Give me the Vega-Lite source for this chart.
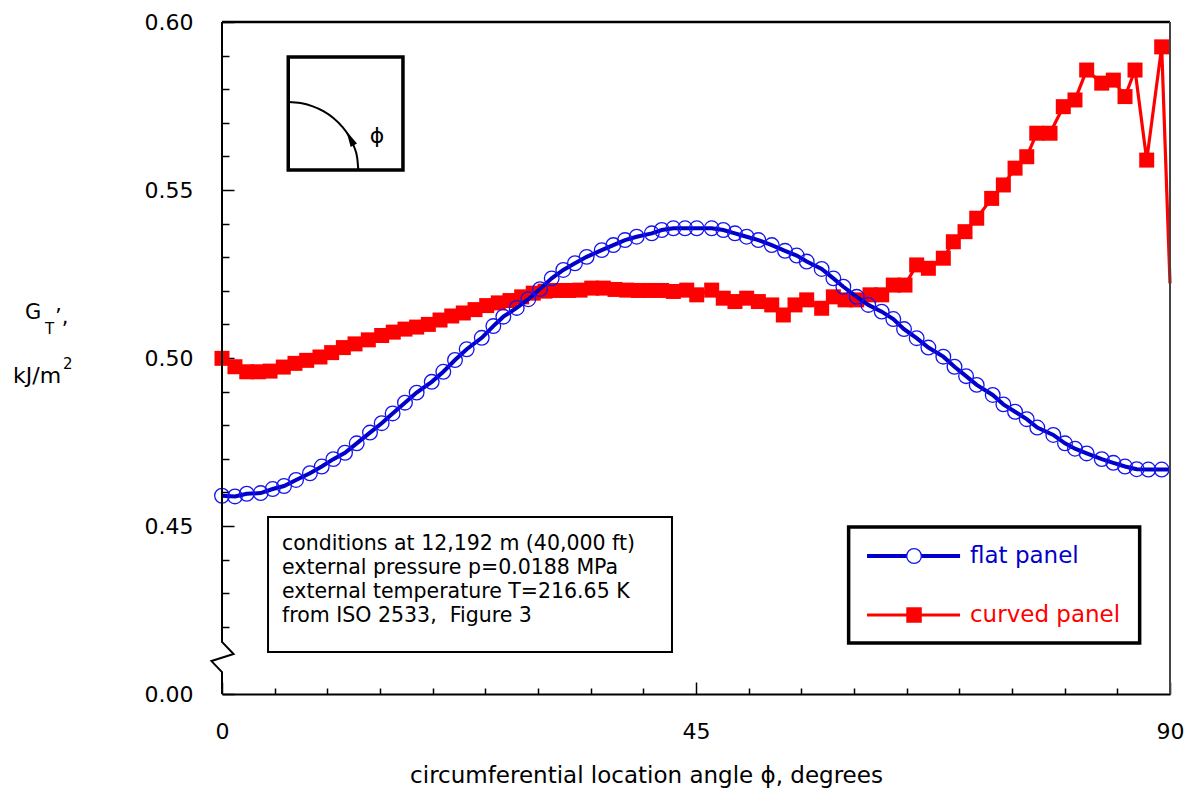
{
  "$schema": "https://vega.github.io/schema/vega-lite/v6.json",
  "width": 948,
  "height": 672,
  "autosize": {"type": "none"},
  "padding": {"left": 222, "top": 22, "right": 23, "bottom": 99},
  "background": "white",
  "config": {
    "view": {"stroke": null},
    "font": "DejaVu Sans",
    "axis": {"labelOverlap": false, "labelFlush": false, "labelBound": false, "grid": false}
  },
  "resolve": {"scale": {"x": "shared", "y": "shared"}, "axis": {"x": "independent", "y": "independent"}},
  "datasets": {
    "flat": [
      {"angle": 0, "GT": 0.4590}, {"angle": 1.23, "GT": 0.4588}, {"angle": 2.35, "GT": 0.4596}, {"angle": 3.67, "GT": 0.4598},
      {"angle": 4.81, "GT": 0.4610}, {"angle": 5.89, "GT": 0.4619}, {"angle": 7.03, "GT": 0.4637}, {"angle": 8.35, "GT": 0.4657},
      {"angle": 9.47, "GT": 0.4677}, {"angle": 10.57, "GT": 0.4699}, {"angle": 11.68, "GT": 0.4718}, {"angle": 12.79, "GT": 0.4746},
      {"angle": 14.05, "GT": 0.4778}, {"angle": 15.16, "GT": 0.4806}, {"angle": 16.20, "GT": 0.4835}, {"angle": 17.37, "GT": 0.4867},
      {"angle": 18.48, "GT": 0.4897}, {"angle": 19.91, "GT": 0.4929}, {"angle": 21.01, "GT": 0.4959}, {"angle": 22.12, "GT": 0.4994},
      {"angle": 23.23, "GT": 0.5026}, {"angle": 24.66, "GT": 0.5060}, {"angle": 25.76, "GT": 0.5095}, {"angle": 26.71, "GT": 0.5123},
      {"angle": 27.98, "GT": 0.5149}, {"angle": 29.08, "GT": 0.5175}, {"angle": 30.19, "GT": 0.5205}, {"angle": 31.30, "GT": 0.5237},
      {"angle": 32.40, "GT": 0.5262}, {"angle": 33.51, "GT": 0.5282}, {"angle": 34.62, "GT": 0.5301}, {"angle": 36.05, "GT": 0.5321},
      {"angle": 37.15, "GT": 0.5336}, {"angle": 38.26, "GT": 0.5351}, {"angle": 39.37, "GT": 0.5361}, {"angle": 40.80, "GT": 0.5371},
      {"angle": 41.75, "GT": 0.5381}, {"angle": 42.85, "GT": 0.5386}, {"angle": 43.96, "GT": 0.5386}, {"angle": 45.07, "GT": 0.5386},
      {"angle": 46.49, "GT": 0.5386}, {"angle": 47.59, "GT": 0.5381}, {"angle": 48.70, "GT": 0.5371}, {"angle": 49.81, "GT": 0.5361},
      {"angle": 50.92, "GT": 0.5351}, {"angle": 52.19, "GT": 0.5336}, {"angle": 53.45, "GT": 0.5319}, {"angle": 54.56, "GT": 0.5305},
      {"angle": 55.51, "GT": 0.5287}, {"angle": 56.93, "GT": 0.5265}, {"angle": 58.04, "GT": 0.5237}, {"angle": 58.99, "GT": 0.5212},
      {"angle": 60.26, "GT": 0.5182}, {"angle": 61.36, "GT": 0.5158}, {"angle": 62.63, "GT": 0.5138}, {"angle": 63.73, "GT": 0.5116},
      {"angle": 64.75, "GT": 0.5086}, {"angle": 65.95, "GT": 0.5059}, {"angle": 67.06, "GT": 0.5031}, {"angle": 68.48, "GT": 0.5004},
      {"angle": 69.54, "GT": 0.4974}, {"angle": 70.64, "GT": 0.4946}, {"angle": 71.65, "GT": 0.4920}, {"angle": 73.17, "GT": 0.4890},
      {"angle": 74.18, "GT": 0.4862}, {"angle": 75.29, "GT": 0.4840}, {"angle": 76.40, "GT": 0.4818}, {"angle": 77.40, "GT": 0.4793},
      {"angle": 78.92, "GT": 0.4771}, {"angle": 80.03, "GT": 0.4746}, {"angle": 80.98, "GT": 0.4730}, {"angle": 82.09, "GT": 0.4716},
      {"angle": 83.52, "GT": 0.4699}, {"angle": 84.62, "GT": 0.4688}, {"angle": 85.73, "GT": 0.4677}, {"angle": 86.84, "GT": 0.4669},
      {"angle": 87.94, "GT": 0.4668}, {"angle": 89.21, "GT": 0.4668}, {"angle": 90, "GT": 0.4668}
    ],
    "curved": [
      {"angle": 0, "GT": 0.4999}, {"angle": 1.23, "GT": 0.4974}, {"angle": 2.35, "GT": 0.4959}, {"angle": 3.45, "GT": 0.4959},
      {"angle": 4.56, "GT": 0.4961}, {"angle": 5.82, "GT": 0.4973}, {"angle": 6.93, "GT": 0.4984}, {"angle": 8.04, "GT": 0.4993},
      {"angle": 9.30, "GT": 0.5003}, {"angle": 10.41, "GT": 0.5016}, {"angle": 11.52, "GT": 0.5031}, {"angle": 12.63, "GT": 0.5042},
      {"angle": 13.89, "GT": 0.5054}, {"angle": 15.16, "GT": 0.5067}, {"angle": 16.26, "GT": 0.5077}, {"angle": 17.37, "GT": 0.5086},
      {"angle": 18.48, "GT": 0.5092}, {"angle": 19.59, "GT": 0.5100}, {"angle": 20.70, "GT": 0.5113}, {"angle": 21.81, "GT": 0.5125},
      {"angle": 22.91, "GT": 0.5134}, {"angle": 24.02, "GT": 0.5144}, {"angle": 25.13, "GT": 0.5156}, {"angle": 26.23, "GT": 0.5164},
      {"angle": 27.34, "GT": 0.5171}, {"angle": 28.45, "GT": 0.5182}, {"angle": 29.55, "GT": 0.5193}, {"angle": 30.67, "GT": 0.5199},
      {"angle": 31.78, "GT": 0.5201}, {"angle": 32.88, "GT": 0.5201}, {"angle": 33.99, "GT": 0.5202}, {"angle": 35.10, "GT": 0.5208},
      {"angle": 36.20, "GT": 0.5208}, {"angle": 37.31, "GT": 0.5204}, {"angle": 38.42, "GT": 0.5202}, {"angle": 39.52, "GT": 0.5201},
      {"angle": 40.63, "GT": 0.5201}, {"angle": 41.74, "GT": 0.5201}, {"angle": 42.85, "GT": 0.5198}, {"angle": 44.12, "GT": 0.5202},
      {"angle": 45.07, "GT": 0.5188}, {"angle": 46.49, "GT": 0.5202}, {"angle": 47.59, "GT": 0.5178}, {"angle": 48.70, "GT": 0.5168},
      {"angle": 49.81, "GT": 0.5178}, {"angle": 50.92, "GT": 0.5168}, {"angle": 52.19, "GT": 0.5158}, {"angle": 53.29, "GT": 0.5128},
      {"angle": 54.40, "GT": 0.5158}, {"angle": 55.51, "GT": 0.5173}, {"angle": 56.93, "GT": 0.5148}, {"angle": 58.04, "GT": 0.5182},
      {"angle": 59.15, "GT": 0.5173}, {"angle": 60.26, "GT": 0.5173}, {"angle": 61.52, "GT": 0.5188}, {"angle": 62.63, "GT": 0.5188},
      {"angle": 63.73, "GT": 0.5217}, {"angle": 64.84, "GT": 0.5217}, {"angle": 65.95, "GT": 0.5277}, {"angle": 67.06, "GT": 0.5267},
      {"angle": 68.48, "GT": 0.5297}, {"angle": 69.43, "GT": 0.5346}, {"angle": 70.54, "GT": 0.5376}, {"angle": 71.65, "GT": 0.5416},
      {"angle": 73.07, "GT": 0.5475}, {"angle": 74.18, "GT": 0.5515}, {"angle": 75.29, "GT": 0.5565}, {"angle": 76.40, "GT": 0.5599},
      {"angle": 77.35, "GT": 0.5669}, {"angle": 78.61, "GT": 0.5669}, {"angle": 79.87, "GT": 0.5748}, {"angle": 80.98, "GT": 0.5768},
      {"angle": 82.09, "GT": 0.5857}, {"angle": 83.52, "GT": 0.5818}, {"angle": 84.62, "GT": 0.5827}, {"angle": 85.73, "GT": 0.5778},
      {"angle": 86.68, "GT": 0.5857}, {"angle": 87.79, "GT": 0.5589}, {"angle": 89.21, "GT": 0.5926}, {"angle": 90, "GT": 0.5222}
    ]
  },
  "layer": [
    {
      "data": {"name": "curved"},
      "mark": {"type": "line", "color": "#FF0000", "strokeWidth": 3.2, "clip": false},
      "encoding": {
        "x": {
          "field": "angle", "type": "quantitative",
          "scale": {"domain": [0, 90], "nice": false, "zero": false},
          "axis": {
            "orient": "bottom",
            "values": [0, 45, 90],
            "format": "d",
            "tickSize": -12,
            "tickColor": "black", "tickWidth": 1.5,
            "domainColor": "black", "domainWidth": 2,
            "labelFont": "DejaVu Sans", "labelFontSize": 22, "labelColor": "black",
            "labelPadding": 39, "labelFlush": false, "labelOverlap": false, "labelBound": false,
            "grid": false,
            "title": "circumferential location angle ϕ, degrees",
            "titleFont": "DejaVu Sans", "titleFontSize": 23, "titleFontWeight": "normal", "titleColor": "black",
            "titleX": 424, "titleY": 88, "titleAlign": "center", "titleBaseline": "alphabetic"
          }
        },
        "y": {
          "field": "GT", "type": "quantitative",
          "scale": {"domain": [0.40, 0.60], "nice": false, "zero": false},
          "axis": {
            "orient": "left",
            "values": [0.4, 0.45, 0.5, 0.55, 0.6],
            "labelExpr": "datum.value < 0.405 ? '0.00' : format(datum.value, '.2f')",
            "tickSize": -12,
            "tickColor": "black", "tickWidth": 1.5,
            "domain": false,
            "labelFont": "DejaVu Sans", "labelFontSize": 22, "labelColor": "black",
            "labelPadding": 41, "labelFlush": false, "labelOverlap": false, "labelBound": false,
            "grid": false, "title": null
          }
        }
      }
    },
    {
      "data": {"name": "curved"},
      "transform": [{"filter": "datum.angle < 89.9"}],
      "mark": {"type": "point", "shape": "square", "filled": true, "color": "#FF0000", "size": 225, "opacity": 1, "clip": false},
      "encoding": {
        "x": {
          "field": "angle", "type": "quantitative",
          "axis": {
            "orient": "bottom",
            "values": [5, 10, 15, 20, 25, 30, 35, 40, 50, 55, 60, 65, 70, 75, 80, 85],
            "tickSize": -6, "tickColor": "black", "tickWidth": 1.5,
            "domain": false, "labels": false, "grid": false, "title": null
          }
        },
        "y": {
          "field": "GT", "type": "quantitative",
          "axis": {
            "orient": "left",
            "values": [0.42, 0.43, 0.44, 0.46, 0.47, 0.48, 0.49, 0.51, 0.52, 0.53, 0.54, 0.56, 0.57, 0.58, 0.59],
            "tickSize": -7, "tickColor": "black", "tickWidth": 1.5,
            "domain": false, "labels": false, "grid": false, "title": null
          }
        }
      }
    },
    {
      "data": {"name": "flat"},
      "mark": {"type": "line", "color": "#0000C8", "strokeWidth": 4, "clip": false},
      "encoding": {
        "x": {"field": "angle", "type": "quantitative", "axis": null},
        "y": {"field": "GT", "type": "quantitative", "axis": null}
      }
    },
    {
      "data": {"name": "flat"},
      "transform": [{"filter": "datum.angle < 89.9"}],
      "mark": {"type": "point", "shape": "circle", "filled": false, "stroke": "#1414F0", "strokeWidth": 1.3, "size": 215, "opacity": 1, "clip": false},
      "encoding": {
        "x": {"field": "angle", "type": "quantitative", "axis": null},
        "y": {"field": "GT", "type": "quantitative", "axis": null}
      }
    },
    {
      "data": {"values": [{}]},
      "mark": {"type": "rule", "color": "black", "strokeWidth": 2.5},
      "encoding": {
        "x": {"datum": 0, "type": "quantitative", "axis": null},
        "x2": {"datum": 90},
        "y": {"datum": 0.6, "type": "quantitative", "axis": null}
      }
    },
    {
      "data": {"values": [{}]},
      "mark": {"type": "rule", "color": "#444444", "strokeWidth": 2},
      "encoding": {
        "x": {"datum": 90, "type": "quantitative", "axis": null},
        "y": {"datum": 0.4, "type": "quantitative", "axis": null},
        "y2": {"datum": 0.6}
      }
    },
    {
      "data": {"values": [
        {"i": 0, "a": 0, "g": 0.6},
        {"i": 1, "a": 0, "g": 0.4155},
        {"i": 2, "a": 1.1, "g": 0.4119},
        {"i": 3, "a": -1.0, "g": 0.4098},
        {"i": 4, "a": 0, "g": 0.4065},
        {"i": 5, "a": 0, "g": 0.4}
      ]},
      "mark": {"type": "line", "color": "black", "strokeWidth": 2, "clip": false},
      "encoding": {
        "x": {"field": "a", "type": "quantitative", "axis": null},
        "y": {"field": "g", "type": "quantitative", "axis": null},
        "order": {"field": "i", "type": "quantitative"}
      }
    },
    {
      "data": {"values": [{}]},
      "mark": {"type": "rect", "fill": "white", "stroke": "black", "strokeWidth": 3.5},
      "encoding": {
        "x": {"datum": 6.29, "type": "quantitative", "axis": null},
        "x2": {"datum": 17.18},
        "y": {"datum": 0.58958, "type": "quantitative", "axis": null},
        "y2": {"datum": 0.55595}
      }
    },
    {
      "data": {"values": [
        {"i": 0, "a": 12.94, "g": 0.55595},
        {"i": 1, "a": 12.84, "g": 0.55947},
        {"i": 2, "a": 12.54, "g": 0.56287},
        {"i": 3, "a": 12.05, "g": 0.56607},
        {"i": 4, "a": 11.38, "g": 0.56896},
        {"i": 5, "a": 10.57, "g": 0.57145},
        {"i": 6, "a": 9.62, "g": 0.57348},
        {"i": 7, "a": 8.56, "g": 0.57497},
        {"i": 8, "a": 7.45, "g": 0.57588},
        {"i": 9, "a": 6.29, "g": 0.57619}
      ]},
      "mark": {"type": "line", "color": "black", "strokeWidth": 2, "interpolate": "monotone"},
      "encoding": {
        "x": {"field": "a", "type": "quantitative", "axis": null},
        "y": {"field": "g", "type": "quantitative", "axis": null},
        "order": {"field": "i", "type": "quantitative"}
      }
    },
    {
      "data": {"values": [{}]},
      "mark": {"type": "point", "shape": "M0,-1L0.45,1L-0.45,1Z", "filled": true, "color": "black", "size": 256, "angle": 332, "opacity": 1},
      "encoding": {
        "x": {"datum": 12.16, "type": "quantitative", "axis": null},
        "y": {"datum": 0.56544, "type": "quantitative", "axis": null}
      }
    },
    {
      "data": {"values": [{}]},
      "mark": {"type": "text", "text": "ϕ", "font": "DejaVu Sans", "fontSize": 22, "color": "black", "align": "center", "baseline": "middle"},
      "encoding": {
        "x": {"datum": 14.72, "type": "quantitative", "axis": null},
        "y": {"datum": 0.56607, "type": "quantitative", "axis": null}
      }
    },
    {
      "data": {"values": [{}]},
      "mark": {"type": "rect", "fill": "white", "stroke": "black", "strokeWidth": 2},
      "encoding": {
        "x": {"datum": 4.37, "type": "quantitative", "axis": null},
        "x2": {"datum": 42.72},
        "y": {"datum": 0.45268, "type": "quantitative", "axis": null},
        "y2": {"datum": 0.4125}
      }
    },
    {
      "data": {"values": [{}]},
      "mark": {
        "type": "text",
        "text": "conditions at 12,192 m (40,000 ft)\nexternal pressure p=0.0188 MPa\nexternal temperature T=216.65 K\nfrom ISO 2533,\u00a0 Figure 3",
        "lineBreak": "\n", "lineHeight": 24,
        "font": "DejaVu Sans", "fontSize": 20.5, "color": "black", "align": "left", "baseline": "alphabetic"
      },
      "encoding": {
        "x": {"datum": 5.7, "type": "quantitative", "axis": null},
        "y": {"datum": 0.44286, "type": "quantitative", "axis": null}
      }
    },
    {
      "data": {"values": [{}]},
      "mark": {"type": "rect", "fill": "white", "stroke": "black", "strokeWidth": 3.5},
      "encoding": {
        "x": {"datum": 59.49, "type": "quantitative", "axis": null},
        "x2": {"datum": 87.12},
        "y": {"datum": 0.4497, "type": "quantitative", "axis": null},
        "y2": {"datum": 0.41518}
      }
    },
    {
      "data": {"values": [{}]},
      "mark": {"type": "rule", "color": "#0000C8", "strokeWidth": 4},
      "encoding": {
        "x": {"datum": 61.24, "type": "quantitative", "axis": null},
        "x2": {"datum": 70.07},
        "y": {"datum": 0.44107, "type": "quantitative", "axis": null}
      }
    },
    {
      "data": {"values": [{}]},
      "mark": {"type": "point", "shape": "circle", "filled": true, "fill": "white", "stroke": "#1414F0", "strokeWidth": 1.3, "size": 215, "opacity": 1},
      "encoding": {
        "x": {"datum": 65.7, "type": "quantitative", "axis": null},
        "y": {"datum": 0.44107, "type": "quantitative", "axis": null}
      }
    },
    {
      "data": {"values": [{}]},
      "mark": {"type": "rule", "color": "#FF0000", "strokeWidth": 3},
      "encoding": {
        "x": {"datum": 61.24, "type": "quantitative", "axis": null},
        "x2": {"datum": 70.07},
        "y": {"datum": 0.42351, "type": "quantitative", "axis": null}
      }
    },
    {
      "data": {"values": [{}]},
      "mark": {"type": "point", "shape": "square", "filled": true, "color": "#FF0000", "size": 240, "opacity": 1},
      "encoding": {
        "x": {"datum": 65.7, "type": "quantitative", "axis": null},
        "y": {"datum": 0.42351, "type": "quantitative", "axis": null}
      }
    },
    {
      "data": {"values": [{}]},
      "mark": {"type": "text", "text": "flat panel", "font": "DejaVu Sans", "fontSize": 23, "color": "#0000CC", "align": "left", "baseline": "alphabetic"},
      "encoding": {
        "x": {"datum": 71.01, "type": "quantitative", "axis": null},
        "y": {"datum": 0.43899, "type": "quantitative", "axis": null}
      }
    },
    {
      "data": {"values": [{}]},
      "mark": {"type": "text", "text": "curved panel", "font": "DejaVu Sans", "fontSize": 23, "color": "#FF0000", "align": "left", "baseline": "alphabetic"},
      "encoding": {
        "x": {"datum": 71.01, "type": "quantitative", "axis": null},
        "y": {"datum": 0.42143, "type": "quantitative", "axis": null}
      }
    },
    {
      "data": {"values": [{}]},
      "mark": {"type": "text", "text": "G", "font": "DejaVu Sans", "fontSize": 21, "color": "black", "align": "left", "baseline": "alphabetic"},
      "encoding": {
        "x": {"datum": -18.7, "type": "quantitative", "axis": null},
        "y": {"datum": 0.5116, "type": "quantitative", "axis": null}
      }
    },
    {
      "data": {"values": [{}]},
      "mark": {"type": "text", "text": "T", "font": "DejaVu Sans", "fontSize": 15, "color": "black", "align": "left", "baseline": "alphabetic"},
      "encoding": {
        "x": {"datum": -16.8, "type": "quantitative", "axis": null},
        "y": {"datum": 0.5071, "type": "quantitative", "axis": null}
      }
    },
    {
      "data": {"values": [{}]},
      "mark": {"type": "text", "text": "’,", "font": "DejaVu Sans", "fontSize": 21, "color": "black", "align": "left", "baseline": "alphabetic"},
      "encoding": {
        "x": {"datum": -15.85, "type": "quantitative", "axis": null},
        "y": {"datum": 0.5101, "type": "quantitative", "axis": null}
      }
    },
    {
      "data": {"values": [{}]},
      "mark": {"type": "text", "text": "kJ/m", "font": "DejaVu Sans", "fontSize": 22, "color": "black", "align": "left", "baseline": "alphabetic"},
      "encoding": {
        "x": {"datum": -19.84, "type": "quantitative", "axis": null},
        "y": {"datum": 0.49256, "type": "quantitative", "axis": null}
      }
    },
    {
      "data": {"values": [{}]},
      "mark": {"type": "text", "text": "2", "font": "DejaVu Sans", "fontSize": 15, "color": "black", "align": "left", "baseline": "alphabetic"},
      "encoding": {
        "x": {"datum": -15.1, "type": "quantitative", "axis": null},
        "y": {"datum": 0.49673, "type": "quantitative", "axis": null}
      }
    }
  ]
}
